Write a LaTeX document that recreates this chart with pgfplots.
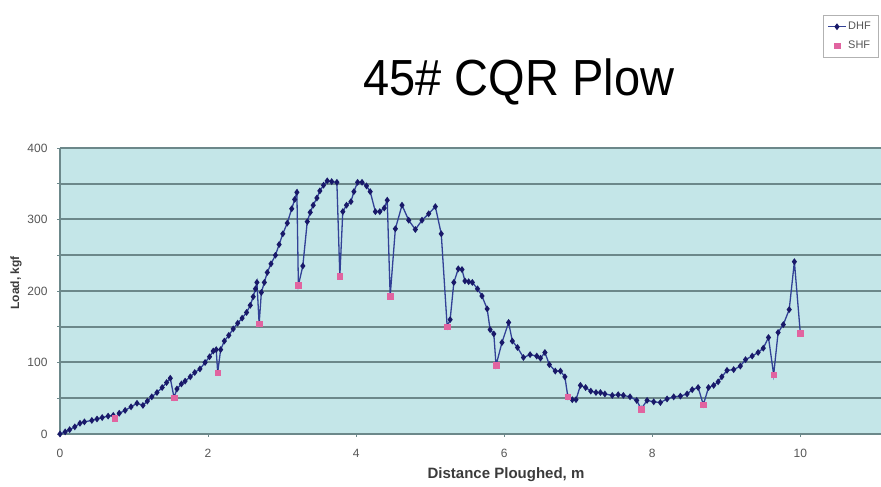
\documentclass[border=0pt]{standalone}
\usepackage{fontspec}
\setmainfont{Liberation Sans}
\usepackage{pgfplots}
\pgfplotsset{compat=1.18}
\definecolor{bgc}{RGB}{196,230,232}
\definecolor{gridc}{RGB}{108,136,138}
\definecolor{dhfline}{RGB}{50,65,150}
\definecolor{dhfmark}{RGB}{25,25,105}
\definecolor{shfc}{RGB}{225,100,160}
\definecolor{tickc}{RGB}{85,85,85}
\pgfplotstableread{
x y
0 0
0.07 3
0.13 6
0.2 10
0.27 15
0.33 17
0.43 19
0.5 21
0.57 23
0.65 25
0.72 26
0.74 22
0.8 29
0.88 33
0.96 38
1.04 43
1.12 40
1.18 46
1.24 52
1.31 58
1.38 65
1.44 72
1.49 78
1.54 51
1.58 63
1.64 70
1.69 74
1.76 80
1.82 86
1.89 91
1.96 100
2.02 108
2.07 116
2.11 118
2.13 86
2.17 118
2.22 130
2.28 138
2.34 147
2.40 155
2.46 162
2.52 170
2.57 180
2.61 192
2.64 203
2.66 212
2.69 154
2.72 198
2.76 212
2.80 226
2.85 238
2.91 250
2.96 265
3.01 280
3.07 295
3.13 315
3.17 328
3.20 338
3.22 208
3.28 235
3.34 297
3.38 310
3.42 320
3.47 330
3.51 340
3.56 348
3.61 354
3.67 353
3.74 352
3.78 221
3.82 311
3.87 320
3.93 325
3.97 339
4.02 352
4.08 352
4.14 347
4.19 339
4.26 311
4.32 311
4.38 316
4.42 327
4.46 193
4.53 287
4.62 320
4.71 299
4.80 286
4.89 299
4.98 308
5.07 318
5.15 280
5.23 150
5.27 160
5.32 212
5.38 231
5.43 230
5.47 214
5.52 213
5.57 212
5.64 203
5.70 193
5.77 175
5.81 146
5.86 140
5.89 96
5.97 128
6.06 156
6.11 130
6.18 121
6.26 107
6.35 111
6.44 109
6.49 106
6.55 114
6.61 97
6.69 88
6.76 88
6.82 80
6.86 52
6.92 48
6.97 48
7.03 68
7.10 65
7.17 60
7.24 58
7.30 58
7.36 56
7.46 54
7.54 55
7.61 54
7.70 52
7.79 47
7.85 35
7.93 47
8.02 45
8.11 44
8.20 49
8.29 52
8.38 53
8.47 56
8.54 62
8.62 65
8.69 41
8.76 65
8.83 68
8.89 73
8.94 80
9.01 89
9.10 90
9.19 95
9.26 104
9.35 109
9.43 114
9.50 120
9.57 135
9.64 83
9.70 142
9.77 153
9.85 174
9.92 241
10.0 141
}\dhf
\pgfplotstableread{
x y
0.74 22
1.54 51
2.13 86
2.69 154
3.22 208
3.78 221
4.46 193
5.23 150
5.89 96
6.86 52
7.85 35
8.69 41
9.64 83
10.0 141
}\shf
\begin{document}
\begin{tikzpicture}
\begin{axis}[name=ax, at={(0,0)}, anchor=south west, scale only axis,
  width=821pt, height=286pt,
  xmin=0, xmax=11.09, ymin=0, ymax=400,
  axis background/.style={fill=bgc},
  axis x line*=bottom, axis y line*=left,
  axis line style={gridc, line width=1.2pt, -},
  xtick={0,2,...,10}, ytick={0,50,...,400},
  yticklabels={0,,100,,200,,300,,400},
  ymajorgrids,
  grid style={gridc, line width=2pt},
  major tick length=3pt, tick align=outside,
  tick style={gridc, line width=0.8pt},
  /pgf/number format/assume math mode=true,
  tick label style={font=\fontsize{12}{14}\selectfont, color=tickc},
  xticklabel style={yshift=-9pt},
  yticklabel style={xshift=-6pt},
  legend style={at={(0.9963,1.465)}, anchor=north east, draw=gray!60,
    fill=white, font=\fontsize{11}{13}\selectfont, inner sep=5pt,
    row sep=6pt, text=tickc},
  legend cell align=left,
]
\addplot[color=dhfline, line width=1.3pt, mark=diamond*, mark size=2.4pt,
  mark options={fill=dhfmark, draw=dhfmark}] table[x=x, y=y] {\dhf};
\addlegendentry{DHF}
\addplot[only marks, mark=square*, mark size=2.8pt, color=shfc] table[x=x, y=y] {\shf};
\addlegendentry{SHF}
\end{axis}
\node[font=\fontsize{47}{52}\selectfont, yscale=1.08] at (459pt,352pt) {45\# CQR Plow};
\node[rotate=90, font=\bfseries\fontsize{12}{14}\selectfont, text=tickc!70!black] at (-44pt,151pt) {Load, kgf};
\node[font=\bfseries\fontsize{15}{17}\selectfont, text=tickc!70!black] at (446pt,-41pt) {Distance Ploughed, m};
\pgfresetboundingbox
\path (-60pt,-53pt) rectangle (821pt,434pt);
\end{tikzpicture}
\end{document}
